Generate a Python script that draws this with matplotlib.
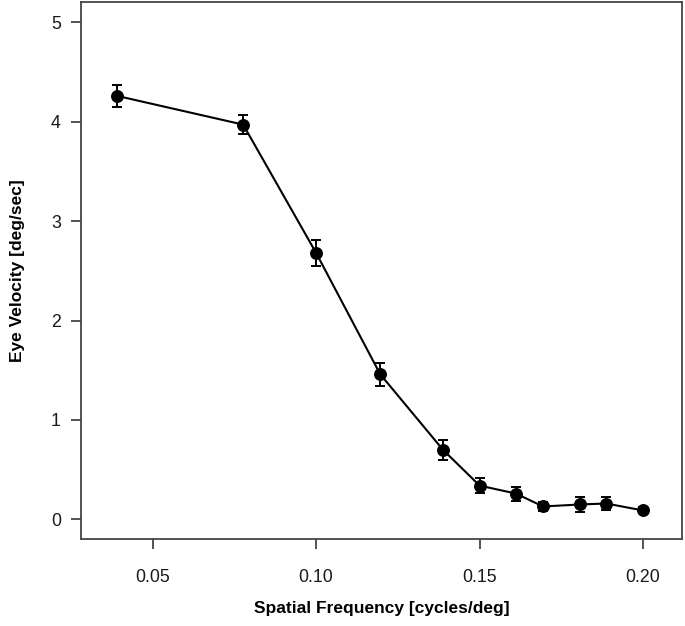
import matplotlib
matplotlib.use("Agg")
import matplotlib.pyplot as plt

plt.rcParams['font.family'] = ['Liberation Sans', 'DejaVu Sans']

# spatial frequency [cycles/deg] and eye velocity [deg/sec]
freq = [0.039, 0.0777, 0.100, 0.1196, 0.1388, 0.150, 0.1611, 0.1694, 0.1806, 0.1887, 0.200]
velocity = [4.26, 3.97, 2.68, 1.46, 0.70, 0.34, 0.26, 0.13, 0.15, 0.16, 0.09]
err = [0.11, 0.095, 0.127, 0.114, 0.10, 0.073, 0.07, 0.045, 0.073, 0.065, 0.03]

x_ticks = [0.05, 0.10, 0.15, 0.20]
x_labels = ["0.05", "0.10", "0.15", "0.20"]
y_ticks = [0, 1, 2, 3, 4, 5]

fig = plt.figure(figsize=(6.85, 6.26), dpi=100)
ax = fig.add_axes([0.1187, 0.1385, 0.8765, 0.8578])

ax.errorbar(freq, velocity, yerr=err, color='black', linewidth=1.5,
            marker='o', markersize=8.3, elinewidth=1.4, capsize=3.5, capthick=1.4)

ax.set_xlim(0.0282, 0.2118)
ax.set_ylim(-0.2, 5.2)
ax.set_xticks(x_ticks)
ax.set_xticklabels(x_labels)
ax.set_yticks(y_ticks)

for s in ax.spines.values():
    s.set_color('#444444')
    s.set_linewidth(1.3)
ax.tick_params(direction='out', length=7.5, width=1.3, color='#444444',
               labelsize=12.8, pad=7.2, labelcolor='#1a1a1a')
ax.tick_params(axis='x', pad=14)

ax.set_xlabel("Spatial Frequency [cycles/deg]", fontsize=12.5, fontweight='bold', labelpad=11)
ax.set_ylabel("Eye Velocity [deg/sec]", fontsize=12.5, fontweight='bold', labelpad=19)

fig.savefig("out.png", dpi=100)
